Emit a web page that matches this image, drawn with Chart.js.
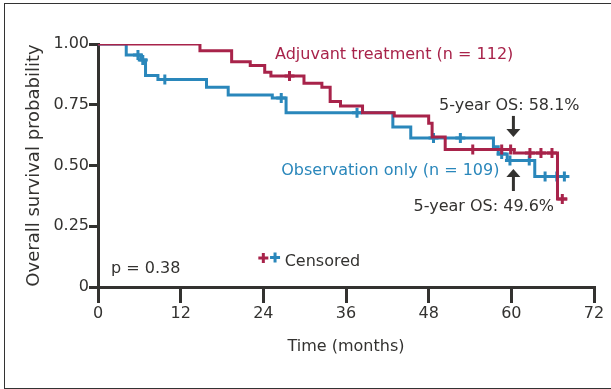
<!DOCTYPE html>
<html>
<head>
<meta charset="utf-8">
<script src="https://cdn.jsdelivr.net/npm/chart.js@4/dist/chart.umd.min.js"></script>
<style>
    html, body { margin: 0; padding: 0; background: #fff; overflow: hidden; }
    #frame { position: absolute; left: 4px; top: 3px; width: 700px; height: 384px; border: 1px solid #333; }
    canvas { position: absolute; left: 0; top: 0; }
</style>
</head>
<body>
<div id="frame"></div>
<canvas id="kmChart" width="611" height="389"></canvas>
<script>
// --- Data ---
const xTicks = [0, 12, 24, 36, 48, 60, 72];
const yTicks = [0, 0.25, 0.5, 0.75, 1];

const redTimes = [0, 14.8, 19.4, 22.1, 24.2, 25.1, 29.9, 32.5, 33.7, 35.2, 38.4, 43.0, 48.0, 48.5, 50.4, 60.4, 66.7, 68.1];
const redSurv  = [1, 0.972, 0.927, 0.912, 0.884, 0.868, 0.838, 0.822, 0.763, 0.745, 0.717, 0.704, 0.674, 0.617, 0.566, 0.551, 0.362, 0.362];
const redCensorTimes = [27.8, 54.4, 58.6, 59.9, 62.7, 64.3, 65.9, 67.4];
const redCensorSurv  = [0.868, 0.566, 0.566, 0.566, 0.551, 0.551, 0.551, 0.362];

const blueTimes = [0, 4.1, 6.2, 6.9, 8.7, 15.75, 18.9, 25.3, 27.3, 42.8, 45.4, 57.4, 58.1, 59.4, 63.4, 68.1];
const blueSurv  = [1, 0.955, 0.934, 0.870, 0.854, 0.822, 0.790, 0.778, 0.717, 0.658, 0.613, 0.577, 0.547, 0.521, 0.455, 0.455];
const blueCensorTimes = [5.8, 6.5, 9.7, 26.6, 37.6, 48.7, 52.6, 58.6, 59.8, 62.6, 64.9, 66.6, 67.7];
const blueCensorSurv  = [0.955, 0.934, 0.854, 0.778, 0.717, 0.613, 0.613, 0.547, 0.521, 0.521, 0.455, 0.455, 0.455];

const redLabel = 'Adjuvant treatment (n = 112)';
const blueLabel = 'Observation only (n = 109)';
const redNote = '5-year OS: 58.1%';
const blueNote = '5-year OS: 49.6%';
const pText = 'p = 0.38';
const legendText = 'Censored';

const RED = '#a8234a';
const BLUE = '#2a87bb';
const INK = '#333230';

const toPoints = (xs, ys) => xs.map((t, i) => ({ x: t, y: ys[i] }));

Chart.defaults.font.family = "'DejaVu Sans', sans-serif";
Chart.defaults.font.size = 16;
Chart.defaults.color = INK;

// annotations, legend and arrows, placed in data units through the scales
const annotate = {
    id: 'annotate',
    afterDatasetsDraw(chart) {
        const { ctx, scales: { x, y } } = chart;
        const px = v => x.getPixelForValue(v);
        const py = v => y.getPixelForValue(v);
        ctx.save();
        ctx.font = "16px 'DejaVu Sans'";
        ctx.textBaseline = 'middle';

        ctx.textAlign = 'left';
        ctx.fillStyle = RED;
        ctx.fillText(redLabel, px(25.7), py(0.957));
        ctx.fillStyle = BLUE;
        ctx.fillText(blueLabel, px(26.6), py(0.479));

        ctx.fillStyle = INK;
        ctx.fillText(pText, px(1.9), py(0.074));
        ctx.fillText(legendText, px(27.1), py(0.103));

        ctx.textAlign = 'center';
        ctx.fillText(redNote, px(59.7), py(0.745));
        ctx.fillText(blueNote, px(56.0), py(0.329));

        // arrows at the 5-year mark
        const arrow = (t, from, base, tip) => {
            const ax = px(t);
            ctx.strokeStyle = INK;
            ctx.lineWidth = 3;
            ctx.beginPath();
            ctx.moveTo(ax, py(from));
            ctx.lineTo(ax, py(base));
            ctx.stroke();
            ctx.beginPath();
            ctx.moveTo(ax - 7, py(base));
            ctx.lineTo(ax + 7, py(base));
            ctx.lineTo(ax, py(tip));
            ctx.closePath();
            ctx.fillStyle = INK;
            ctx.fill();
        };
        arrow(60.3, 0.704, 0.650, 0.617);
        arrow(60.3, 0.395, 0.453, 0.486);

        // legend crosses
        const cross = (t, s, color) => {
            const cx = px(t), cy = py(s);
            ctx.strokeStyle = color;
            ctx.lineWidth = 3;
            ctx.beginPath();
            ctx.moveTo(cx - 5, cy); ctx.lineTo(cx + 5, cy);
            ctx.moveTo(cx, cy - 5); ctx.lineTo(cx, cy + 5);
            ctx.stroke();
        };
        cross(24.0, 0.119, RED);
        cross(25.7, 0.121, BLUE);
        ctx.restore();
    }
};

new Chart(document.getElementById('kmChart'), {
    type: 'line',
    data: {
        datasets: [
            {
                label: redLabel,
                data: toPoints(redTimes, redSurv),
                borderColor: RED,
                borderWidth: 3,
                stepped: 'before',
                pointRadius: 0,
                fill: false
            },
            {
                label: 'red censored',
                data: toPoints(redCensorTimes, redCensorSurv),
                showLine: false,
                pointStyle: 'cross',
                pointRadius: 5,
                pointBorderWidth: 3,
                borderColor: RED,
                backgroundColor: RED
            },
            {
                label: blueLabel,
                data: toPoints(blueTimes, blueSurv),
                borderColor: BLUE,
                borderWidth: 3,
                stepped: 'before',
                pointRadius: 0,
                fill: false
            },
            {
                label: 'blue censored',
                data: toPoints(blueCensorTimes, blueCensorSurv),
                showLine: false,
                pointStyle: 'cross',
                pointRadius: 5,
                pointBorderWidth: 3,
                borderColor: BLUE,
                backgroundColor: BLUE
            }
        ]
    },
    options: {
        responsive: false,
        animation: false,
        devicePixelRatio: 1,
        layout: { padding: { top: 44, right: 17, bottom: 0, left: 0 } },
        plugins: { legend: { display: false }, tooltip: { enabled: false } },
        scales: {
            x: {
                type: 'linear',
                min: 0,
                max: 72,
                afterBuildTicks: s => { s.ticks = xTicks.map(v => ({ value: v })); },
                afterFit: s => { s.height = 102; },
                grid: { drawOnChartArea: false, color: INK, lineWidth: 3, tickLength: 16 },
                border: { color: INK, width: 3 },
                ticks: { color: INK, padding: 1, maxRotation: 0 },
                title: { display: true, text: 'Time (months)', color: INK, font: { size: 16 }, padding: { top: 0, bottom: 33 } }
            },
            y: {
                min: 0,
                max: 1,
                afterBuildTicks: s => { s.ticks = yTicks.map(v => ({ value: v })); },
                afterFit: s => { s.width = 98; },
                grid: { drawOnChartArea: false, color: INK, lineWidth: 3, tickLength: 9 },
                border: { color: INK, width: 3 },
                ticks: { color: INK, padding: 0, callback: v => v === 0 ? '0' : v.toFixed(2) },
                title: { display: true, text: 'Overall survival probability', color: INK, font: { size: 18 }, padding: { top: 24, bottom: 0 } }
            }
        }
    },
    plugins: [annotate]
});
</script>
</body>
</html>
